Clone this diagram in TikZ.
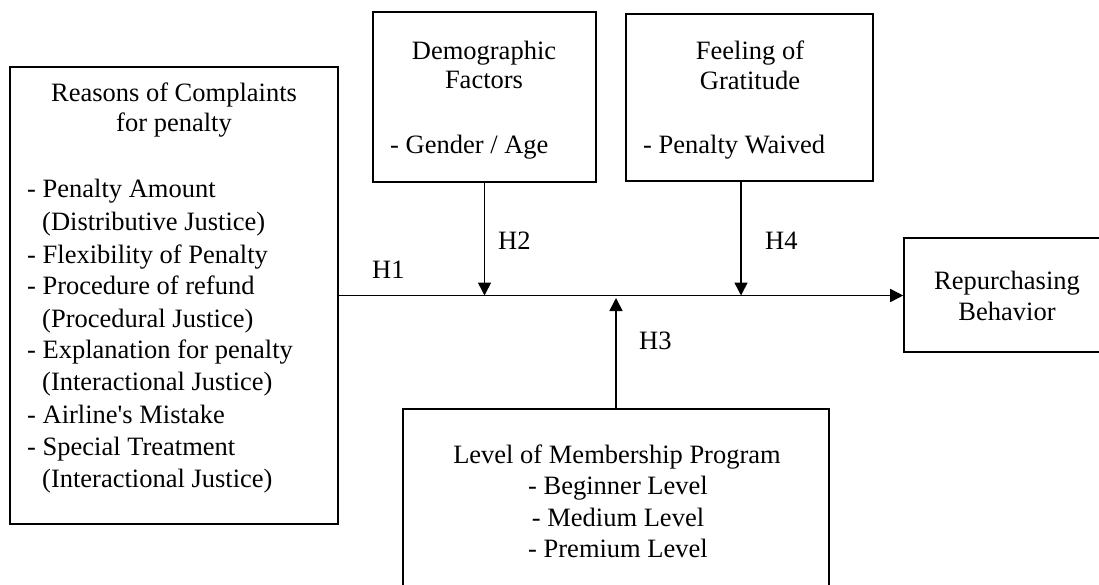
\documentclass[tikz,border=0pt]{standalone}
\usepackage{fontspec}
\setmainfont{Liberation Serif}
\usetikzlibrary{arrows.meta}
\tikzset{
  box/.style={draw, line width=1.6pt, inner sep=0pt, rectangle},
  txt/.style={inner sep=0pt, font=\fontsize{26.5}{32}\selectfont, anchor=base},
  txtl/.style={txt, anchor=base west},
  conn/.style={line width=1.6pt, -{Triangle[length=13pt,width=13pt]}},
}
\begin{document}
\begin{tikzpicture}[x=1pt,y=-1pt]
\useasboundingbox (0,0) rectangle (1099,585);
\clip (0,0) rectangle (1099,585);
\fill[white] (0,0) rectangle (1099,585);
% boxes
\node[box, minimum width=328pt, minimum height=457pt] (reasons) at (174,295.5) {};
\node[box, minimum width=223pt, minimum height=170pt] (demo) at (484.5,97) {};
\node[box, minimum width=247pt, minimum height=167pt] (feel) at (749.5,97.5) {};
\node[box, minimum width=206pt, minimum height=114pt] (rep) at (1007,295) {};
\node[box, minimum width=426pt, minimum height=191pt] (level) at (616,504.5) {};
% left box text
\node[txt] (r1) at (174,102) {Reasons of Complaints};
\node[txt] (r2) at (174,132) {for penalty};
\node[txtl] (r3) at (27,198) {- Penalty Amount};
\node[txtl] (r4) at (42,231) {(Distributive Justice)};
\node[txtl] (r5) at (27,263) {- Flexibility of Penalty};
\node[txtl] (r6) at (27,294) {- Procedure of refund};
\node[txtl] (r7) at (42,327) {(Procedural Justice)};
\node[txtl] (r8) at (27,358) {- Explanation for penalty};
\node[txtl] (r9) at (42,390) {(Interactional Justice)};
\node[txtl] (r10) at (27,423) {- Airline\textquotesingle s Mistake};
\node[txtl] (r11) at (27,455) {- Special Treatment};
\node[txtl] (r12) at (42,487) {(Interactional Justice)};
% demographic
\node[txt] (d1) at (484,60) {Demographic};
\node[txt] (d2) at (484,89) {Factors};
\node[txtl] (d3) at (390,154) {- Gender / Age};
% feeling
\node[txt] (f1) at (750,60) {Feeling of};
\node[txt] (f2) at (750,90) {Gratitude};
\node[txtl] (f3) at (643,154) {- Penalty Waived};
% repurchasing
\node[txt] (p1) at (1007,289) {Repurchasing};
\node[txt] (p2) at (1007,320) {Behavior};
% level
\node[txt] (m1) at (617,463) {Level of Membership Program};
\node[txt] (m2) at (618,494) {- Beginner Level};
\node[txt] (m3) at (618,526) {- Medium Level};
\node[txt] (m4) at (618,557) {- Premium Level};
% connectors
\coordinate (j4) at (741,296);
\draw[conn] (reasons.east) -- (reasons.east -| rep.west);
\draw[conn] (demo.south) -- (demo.south |- reasons.east);
\draw[conn] (j4 |- feel.south) -- (j4 |- reasons.east);
\draw[conn] (level.north) -- ([yshift=-2.5pt]level.north |- reasons.east);
% labels
\node[txtl] (h1) at (372,278) {H1};
\node[txtl] (h2) at (498,249) {H2};
\node[txtl] (h4) at (765,249) {H4};
\node[txtl] (h3) at (639,349) {H3};
\end{tikzpicture}
\end{document}
